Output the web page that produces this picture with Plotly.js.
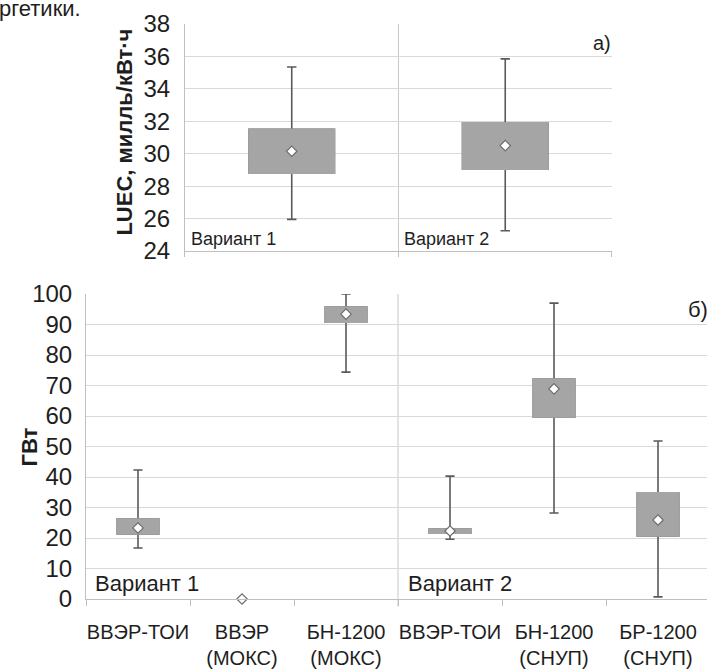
<!DOCTYPE html>
<html>
<head>
<meta charset="utf-8">
<script src="https://cdn.plot.ly/plotly-3.0.1.min.js"></script>
<style>html,body{margin:0;padding:0;background:#fff;}#chart{width:707px;height:669px;}</style>
</head>
<body>
<div id="chart"></div>
<script>
// ---- Panel a) LUEC ----
const topCats = ['Вариант 1', 'Вариант 2'];
const topQ1 = [28.8, 29.05];
const topQ3 = [31.5, 31.9];
const topMin = [25.95, 25.25];
const topMax = [35.35, 35.85];
const topMean = [30.15, 30.5];
const topTicks = [24, 26, 28, 30, 32, 34, 36, 38];

// ---- Panel б) installed capacity, GW ----
const botCats = ['ВВЭР-ТОИ', 'ВВЭР<br>(МОКС)', 'БН-1200<br>(МОКС)', 'ВВЭР-ТОИ', 'БН-1200<br>(СНУП)', 'БР-1200<br>(СНУП)'];
const botVariants = ['Вариант 1', 'Вариант 2'];
const botQ1 = [21.3, null, 90.8, 21.6, 59.7, 20.7];
const botQ3 = [26.2, null, 95.7, 22.9, 72.1, 34.8];
const botMin = [16.7, null, 74.4, 19.6, 28.2, 0.7];
const botMax = [42.3, null, 100, 40.3, 97.0, 51.8];
const botMean = [23.3, 0, 93.4, 22.3, 68.9, 25.9];
const botTicks = [0, 10, 20, 30, 40, 50, 60, 70, 80, 90, 100];

const SANS = '"Liberation Sans", Arial, sans-serif';
const BOXFILL = '#a5a5a5';
const WHISK = '#5a5a5a';
const GRID = '#d9d9d9';
const AXL = '#bfbfbf';
const TXT = '#1e1e1e';

function boxTraces(xs, q1, q3, lo, hi, xa, ya, ww) {
  const idx = xs.map((_, i) => i).filter(i => q1[i] !== null);
  const X = idx.map(i => xs[i]);
  const pick = a => idx.map(i => a[i]);
  const common = {type: 'box', x: X, q1: pick(q1), q3: pick(q3), median: pick(q1),
    width: 0.4, xaxis: xa, yaxis: ya, showlegend: false, hoverinfo: 'skip', boxpoints: false};
  return [
    Object.assign({}, common, {lowerfence: pick(lo), upperfence: pick(hi),
      fillcolor: WHISK, line: {color: WHISK, width: 1.6}, whiskerwidth: ww}),
    Object.assign({}, common, {lowerfence: pick(q1), upperfence: pick(q3),
      fillcolor: BOXFILL, line: {color: BOXFILL, width: 1.6}, whiskerwidth: 0})
  ];
}

const topX = topCats.map((_, i) => i);
const botX = botCats.map((_, i) => i);
const meanMarker = {symbol: 'diamond', size: 8, color: '#ffffff', line: {color: '#6e6e6e', width: 1.2}};

const traces = [].concat(
  boxTraces(topX, topQ1, topQ3, topMin, topMax, 'x', 'y', 0.11),
  boxTraces(botX, botQ1, botQ3, botMin, botMax, 'x2', 'y2', 0.22),
  [{type: 'scatter', mode: 'markers', x: topX, y: topMean, xaxis: 'x', yaxis: 'y',
    marker: meanMarker, showlegend: false, hoverinfo: 'skip', cliponaxis: false},
   {type: 'scatter', mode: 'markers', x: botX, y: botMean, xaxis: 'x2', yaxis: 'y2',
    marker: meanMarker, showlegend: false, hoverinfo: 'skip', cliponaxis: false}]
);

const layout = {
  width: 707, height: 669,
  margin: {l: 86, r: 0, t: 24, b: 70},
  paper_bgcolor: '#ffffff', plot_bgcolor: '#ffffff',
  boxmode: 'overlay',
  font: {family: SANS, color: TXT},
  xaxis: {
    domain: [0.1594, 0.847], anchor: 'y', range: [-0.5, 1.5],
    tickmode: 'array', tickvals: [-0.5, 0.5, 1.5], ticktext: ['', '', ''],
    ticks: 'outside', ticklen: 5, tickcolor: AXL,
    showgrid: true, gridcolor: '#c9c9c9', gridwidth: 1,
    showline: true, linecolor: AXL, zeroline: false
  },
  yaxis: {
    domain: [0.6052, 1], anchor: 'x', range: [24, 38],
    tickmode: 'array', tickvals: topTicks,
    tickfont: {family: SANS, size: 24, color: TXT},
    ticks: '', ticklabelstandoff: 9,
    showgrid: true, gridcolor: GRID, showline: true, linecolor: AXL, zeroline: false
  },
  xaxis2: {
    domain: [0, 1], anchor: 'y2', range: [-0.5, 5.471],
    tickmode: 'array', tickvals: botX, ticktext: botCats,
    tickfont: {family: SANS, size: 20, color: TXT},
    ticks: '', ticklabelstandoff: 15,
    minor: {tickmode: 'array', tickvals: [-0.5, 0.5, 1.5, 2.5, 3.5, 4.5, 5.5], ticks: 'outside', ticklen: 6, tickcolor: AXL, showgrid: false},
    showgrid: false, showline: true, linecolor: AXL, zeroline: false
  },
  yaxis2: {
    domain: [0, 0.5304], anchor: 'x2', range: [0, 100],
    tickmode: 'array', tickvals: botTicks,
    tickfont: {family: SANS, size: 24, color: TXT},
    ticks: '', ticklabelstandoff: 8,
    showgrid: true, gridcolor: GRID, showline: true, linecolor: AXL, zeroline: false
  },
  shapes: [
    {type: 'line', xref: 'x2', yref: 'y2 domain', x0: 2.5, x1: 2.5, y0: -0.025, y1: 1, line: {color: '#c9c9c9', width: 1}, layer: 'below'}
  ],
  annotations: [
    {text: '<b>LUEC, милль/кВт·ч</b>', textangle: -90, xref: 'paper', yref: 'y domain', x: 0.0628, y: 0.526, xanchor: 'center', yanchor: 'middle', showarrow: false, font: {family: SANS, size: 22, color: TXT}},
    {text: '<b>ГВт</b>', textangle: -90, xref: 'paper', yref: 'y2 domain', x: -0.0902, y: 0.5, xanchor: 'center', yanchor: 'middle', showarrow: false, font: {family: SANS, size: 22, color: TXT}},
    {text: 'а)', xref: 'x domain', yref: 'y domain', x: 1, y: 1, xanchor: 'right', yanchor: 'top', xshift: 1, yshift: -6, showarrow: false, font: {family: SANS, size: 20, color: TXT}},
    {text: 'б)', xref: 'paper', yref: 'y2 domain', x: 1, y: 1, xanchor: 'right', yanchor: 'top', xshift: 3, yshift: -1, showarrow: false, font: {family: SANS, size: 22, color: TXT}},
    {text: topCats[0], xref: 'x', yref: 'y domain', x: -0.5, y: 0, xanchor: 'left', yanchor: 'bottom', xshift: 4, yshift: 0, showarrow: false, font: {family: SANS, size: 18, color: TXT}},
    {text: topCats[1], xref: 'x', yref: 'y domain', x: 0.5, y: 0, xanchor: 'left', yanchor: 'bottom', xshift: 4, yshift: 0, showarrow: false, font: {family: SANS, size: 18, color: TXT}},
    {text: botVariants[0], xref: 'x2', yref: 'y2 domain', x: -0.5, y: 0, xanchor: 'left', yanchor: 'bottom', xshift: 7, yshift: 1, showarrow: false, font: {family: SANS, size: 22, color: TXT}},
    {text: botVariants[1], xref: 'x2', yref: 'y2 domain', x: 2.5, y: 0, xanchor: 'left', yanchor: 'bottom', xshift: 8, yshift: 1, showarrow: false, font: {family: SANS, size: 22, color: TXT}},
    {text: 'ргетики.', xref: 'paper', yref: 'paper', x: -86/621, y: 1, xanchor: 'left', yanchor: 'top', xshift: -3, yshift: 30, showarrow: false, font: {family: SANS, size: 22, color: TXT}}
  ]
};

Plotly.newPlot('chart', traces, layout, {staticPlot: true, displayModeBar: false});
</script>
</body>
</html>
